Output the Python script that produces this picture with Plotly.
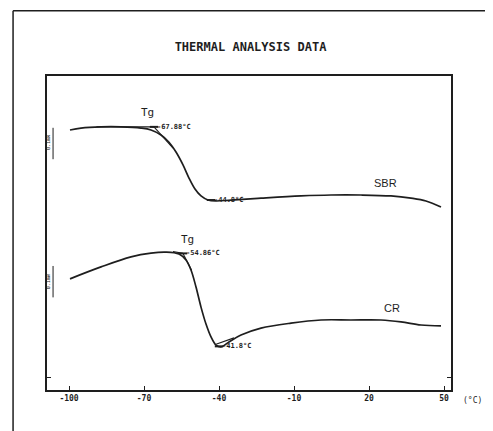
import plotly.graph_objects as go

# ---- data (temperature in °C, heat flow in arbitrary units) ----
sbr_t = [-99.6, -95.2, -87.2, -79.2, -71.2, -67.2, -63.2, -60.0, -57.2, -54.4, -52.0, -49.6,
         -47.2, -44.4, -41.2, -35.2, -23.2, -7.2, 4.8, 16.8, 28.8, 36.8, 42.8, 48.8]
sbr_y = [82.8, 83.4, 83.8, 83.8, 83.4, 82.8, 81.2, 78.9, 75.8, 71.7, 67.5, 64.0,
         61.8, 60.5, 60.2, 60.5, 61.1, 61.8, 62.1, 62.1, 61.8, 61.1, 60.2, 58.3]

cr_t = [-99.6, -87.2, -75.2, -67.2, -61.2, -56.0, -53.2, -51.2, -49.2, -47.2, -45.2, -43.2,
        -41.2, -39.2, -36.0, -31.2, -23.2, -11.2, 0.8, 12.8, 24.8, 32.8, 40.8, 48.8]
cr_y = [35.4, 39.2, 42.4, 43.6, 43.9, 43.3, 41.4, 38.2, 32.8, 26.4, 21.0, 16.9,
        14.3, 13.7, 15.3, 17.5, 19.7, 21.3, 22.3, 22.3, 22.3, 21.7, 20.7, 20.4]

# tangent constructions
sbr_base_t = [-89.0, -66.0]
sbr_base_y = [83.8, 83.8]
sbr_slope_t = [-66.0, -58.4]
sbr_slope_y = [83.8, 77.0]
cr_base_t = [-58.4, -54.4]
cr_base_y = [44.1, 43.5]
cr_slope_t = [-54.4, -51.0]
cr_slope_y = [43.5, 38.2]
cr_end_t = [-41.2, -34.0]
cr_end_y = [14.6, 16.6]

# marked points
pt_t = [-66.0, -43.2, -54.4, -40.0]
pt_y = [83.8, 60.5, 43.5, 13.9]
pt_labels = ["-67.88°C", "-44.8°C", "-54.86°C", "-41.8°C"]

xticks = [-100, -70, -40, -10, 20, 50]
xticklabels = ["-100", "-70", "-40", "-10", "20", "50"]

ink = "#1e1e1e"
fig = go.Figure()
fig.add_trace(go.Scatter(x=sbr_t, y=sbr_y, mode="lines", line=dict(color=ink, width=1.7, shape="spline"),
                         hoverinfo="skip"))
fig.add_trace(go.Scatter(x=cr_t, y=cr_y, mode="lines", line=dict(color=ink, width=1.7, shape="spline"),
                         hoverinfo="skip"))
for tx, ty in [(sbr_base_t, sbr_base_y), (sbr_slope_t, sbr_slope_y), (cr_base_t, cr_base_y),
               (cr_slope_t, cr_slope_y), (cr_end_t, cr_end_y)]:
    fig.add_trace(go.Scatter(x=tx, y=ty, mode="lines", line=dict(color=ink, width=1.1), hoverinfo="skip"))
fig.add_trace(go.Scatter(x=pt_t, y=pt_y, mode="markers", marker=dict(symbol="line-ew", size=6,
                         line=dict(color=ink, width=2)), hoverinfo="skip"))

mono = "DejaVu Sans Mono"
anns = []
for t, y, lab in zip(pt_t, pt_y, pt_labels):
    anns.append(dict(x=t, y=y, text="<b>" + lab + "</b>", showarrow=False, xanchor="left", yanchor="middle",
                     xshift=1, font=dict(family=mono, size=7, color=ink)))
anns += [
    dict(x=-67.2, y=83.8, text="Tg", showarrow=False, yshift=14, xshift=-4, font=dict(family=mono, size=11, color=ink)),
    dict(x=-53.6, y=43.5, text="Tg", showarrow=False, yshift=14, xshift=2, font=dict(family=mono, size=11, color=ink)),
    dict(x=26.5, y=61.6, text="SBR", showarrow=False, yshift=14, font=dict(family="Liberation Sans", size=11, color=ink)),
    dict(x=29.0, y=21.6, text="CR", showarrow=False, yshift=14, font=dict(family="Liberation Sans", size=11, color=ink)),
    dict(x=1.0, y=0, xref="paper", yref="paper", text="(°C)", showarrow=False, xanchor="left", yanchor="top",
         xshift=10, yshift=-4, font=dict(family=mono, size=8, color=ink)),
    dict(x=0, y=79.0, xref="paper", text="0.1mW", textangle=-90, showarrow=False, xshift=-4,
         font=dict(family=mono, size=5, color=ink)),
    dict(x=0, y=34.6, xref="paper", text="0.1mW", textangle=-90, showarrow=False, xshift=-4,
         font=dict(family=mono, size=5, color=ink)),
]

shapes = [
    dict(type="line", xref="paper", yref="paper", x0=-0.084, x1=1.087, y0=1.208, y1=1.208, line=dict(color=ink, width=1.5)),
    dict(type="line", xref="paper", yref="paper", x0=-0.084, x1=-0.084, y0=1.208, y1=-0.14, line=dict(color=ink, width=1.5)),
    dict(type="line", xref="paper", x0=0.015, x1=0.015, y0=73.5, y1=83.5, line=dict(color=ink, width=1)),
    dict(type="line", xref="paper", x0=0.015, x1=0.015, y0=39.5, y1=29.5, line=dict(color=ink, width=1)),
]

# the page places the figure a few pixels in from the window corner
fig.update_layout(
    width=485, height=423,
    margin=dict(l=39, r=42, t=68, b=41),
    paper_bgcolor="white", plot_bgcolor="white",
    showlegend=False,
    title=dict(text="<b>THERMAL ANALYSIS DATA</b>", x=0.5, xanchor="center", y=0.908, yanchor="middle",
               font=dict(family=mono, size=12, color=ink)),
    xaxis=dict(range=[-108.8, 52.8], tickvals=xticks, ticktext=["<b>%s</b>" % s for s in xticklabels],
               ticks="inside", ticklen=4, tickcolor=ink, showline=True, linecolor=ink, linewidth=1.5,
               mirror=True, showgrid=False, zeroline=False,
               tickfont=dict(family=mono, size=8, color=ink)),
    yaxis=dict(range=[0, 100], tickvals=[4], ticks="inside", ticklen=4, tickcolor=ink, showticklabels=False,
               showline=True, linecolor=ink, linewidth=1.5, mirror="ticks", showgrid=False, zeroline=False),
    annotations=anns,
    shapes=shapes,
)
fig.write_html("out.html")
